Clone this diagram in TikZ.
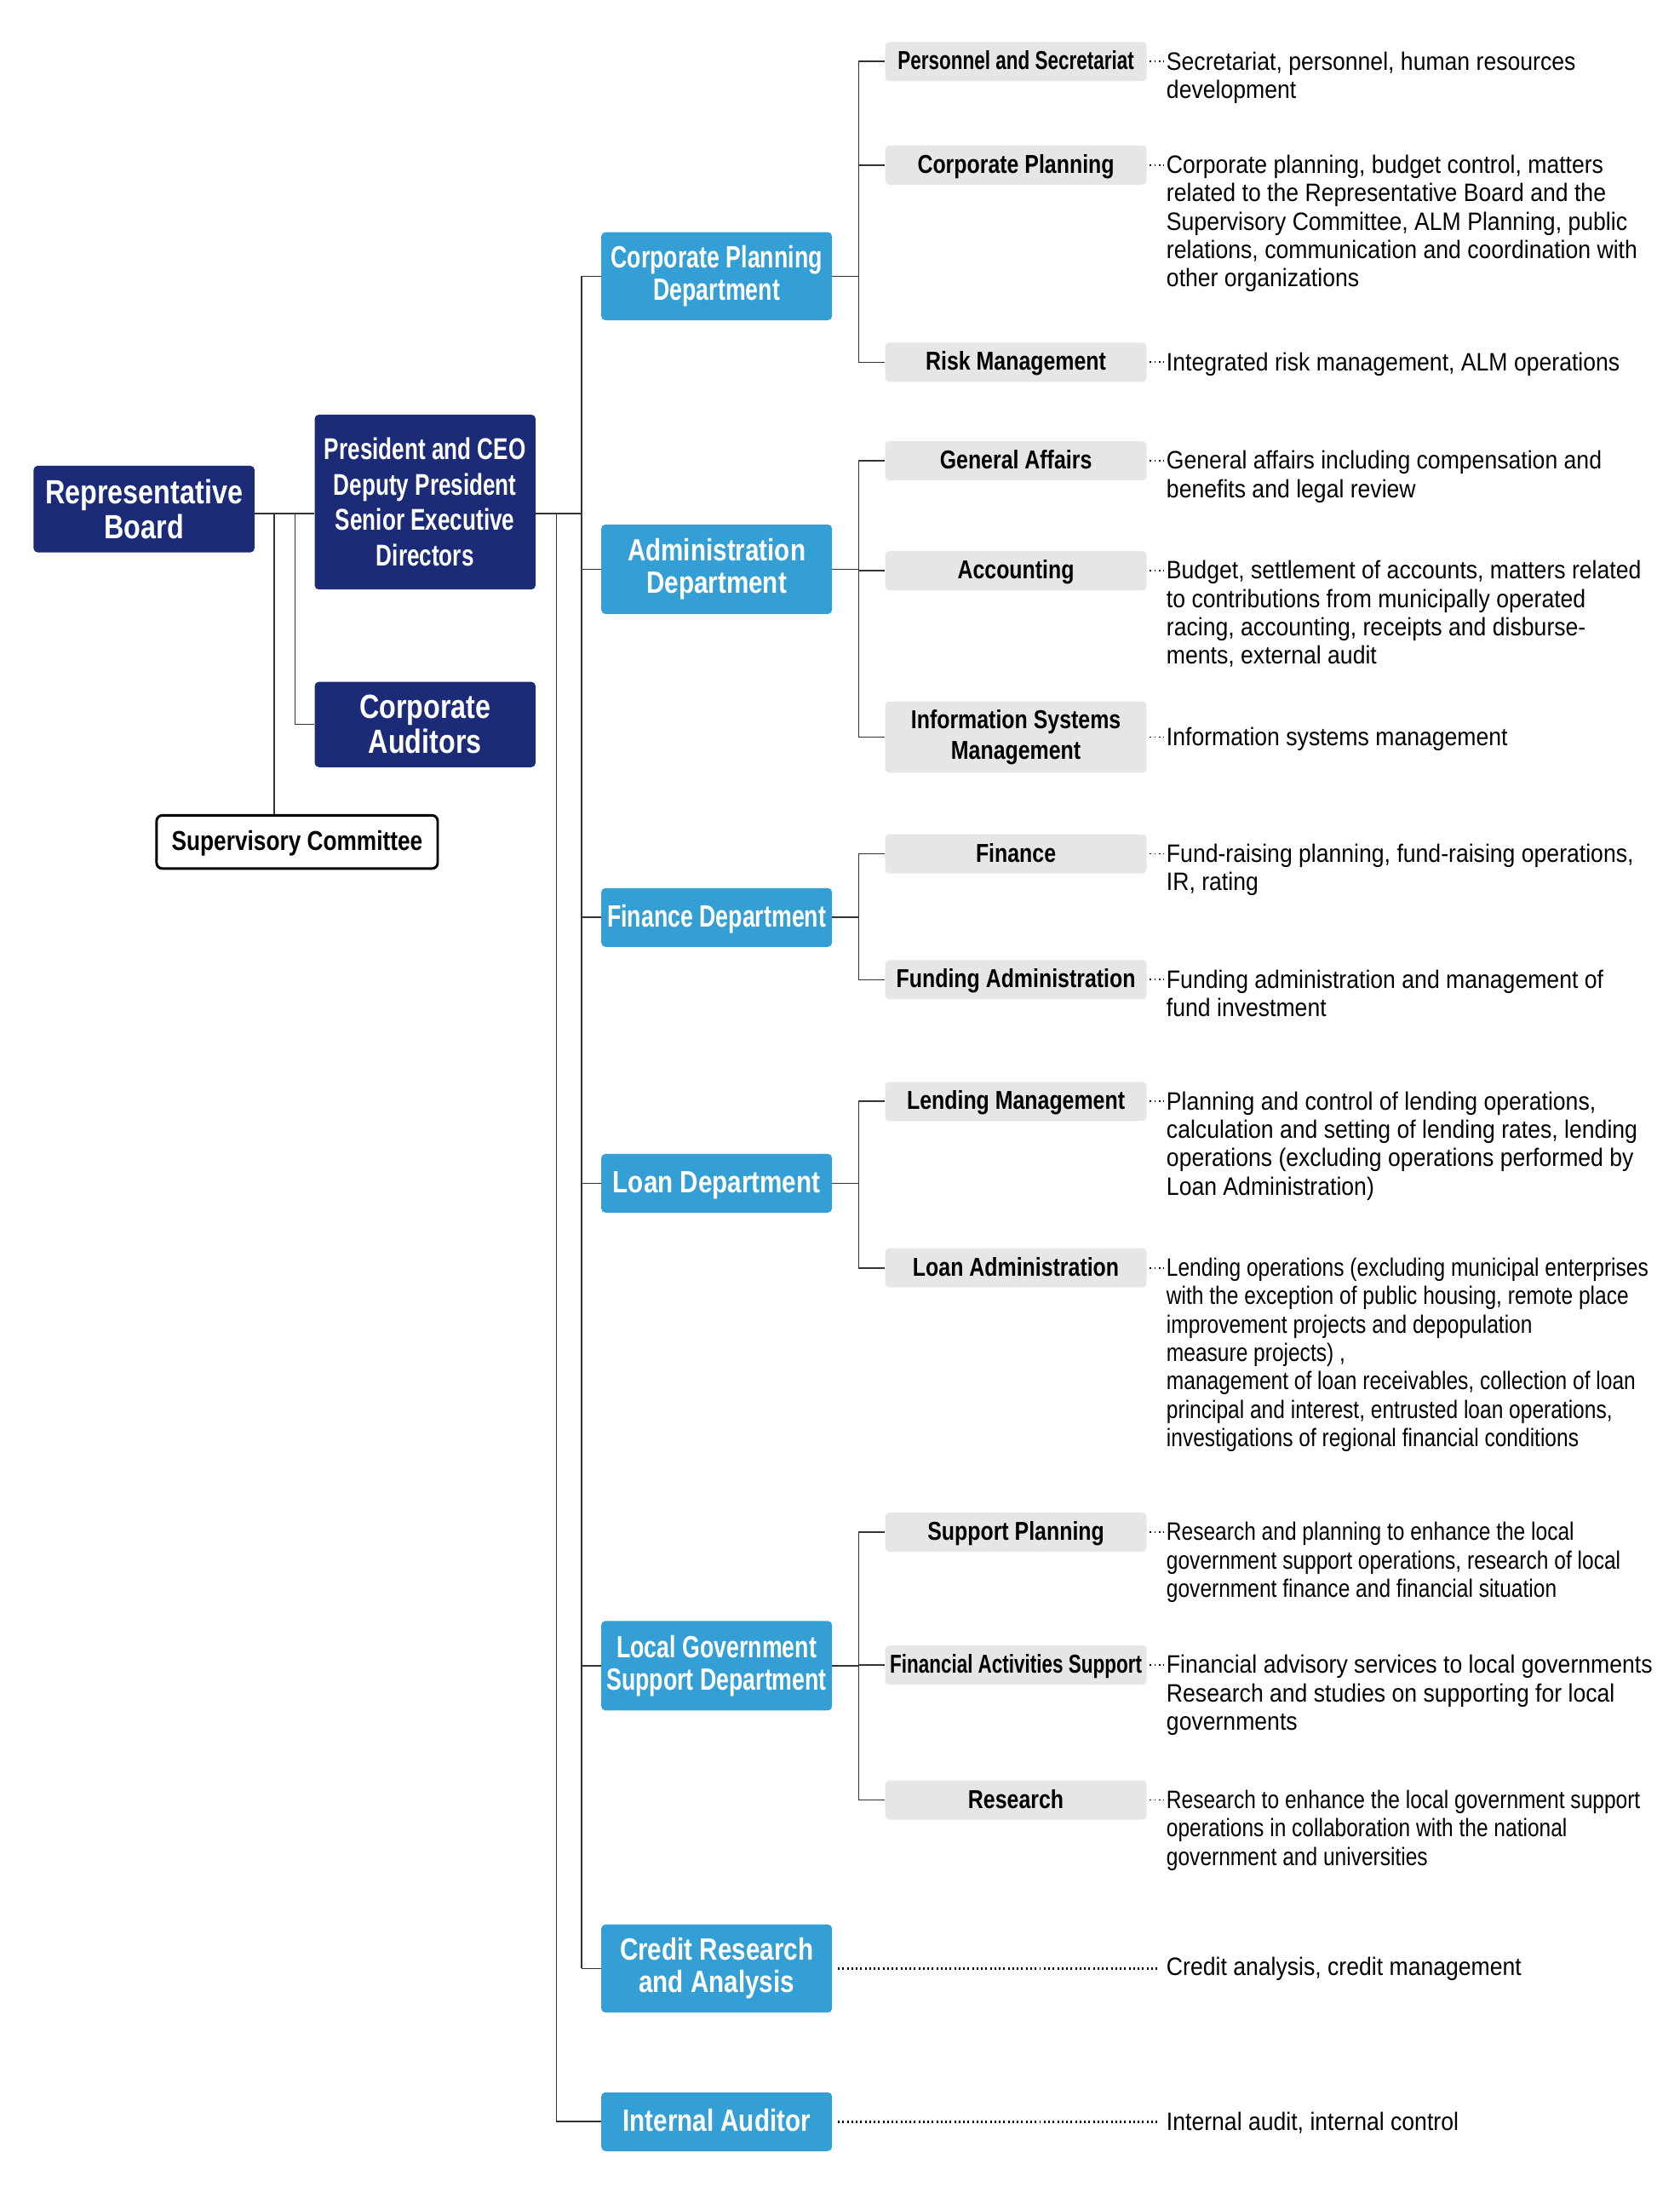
\documentclass[tikz,border=0pt]{standalone}
\usepackage{fontspec}
\setmainfont{Liberation Sans}[FakeStretch=0.9]
\newfontfamily\condfont{Liberation Sans}[FakeStretch=0.82]
\newfontfamily\tightfont{Liberation Sans}[FakeStretch=0.74]
\newfontfamily\loanfont{Liberation Sans}[FakeStretch=0.83]
\usepackage{xcolor}
\usepackage{tikz}
\definecolor{deepblue}{HTML}{1B2B78}
\definecolor{skyblue}{HTML}{349FD5}
\definecolor{boxgray}{HTML}{E6E6E7}
\definecolor{linegray}{HTML}{333333}

\begin{document}
\begin{tikzpicture}[x=1pt,y=-1pt,
  link/.style={draw=linegray, line width=1pt},
  leader/.style={draw=black, line width=1.1pt, dash pattern=on 1.1pt off 2.1pt},
  longleader/.style={draw=black, line width=1.6pt, dash pattern=on 1.2pt off 2pt},
  boardbox/.style={fill=deepblue, rounded corners=3pt, text=white, align=center, minimum width=158pt, inner sep=2pt, font=\condfont\bfseries\fontsize{24}{25}\selectfont},
  deptbox/.style={fill=skyblue, rounded corners=3pt, text=white, align=center, minimum width=165pt, inner sep=2pt, font=\condfont\bfseries\fontsize{22}{23}\selectfont},
  deptline/.style={deptbox, minimum height=42pt, text height=16pt, text depth=2.5pt},
  secbox/.style={fill=boxgray, rounded corners=3pt, align=center, minimum width=187pt, minimum height=28pt, inner sep=2pt, font=\condfont\bfseries\fontsize{18.5}{22}\selectfont},
  secline/.style={secbox, text height=13.5pt, text depth=2pt},
  desc/.style={anchor=base west, inner sep=0pt, font=\fontsize{18}{20.3}\selectfont}]
\useasboundingbox (0,0) rectangle (1201,1568);
\fill[white] (0,0) rectangle (1201,1568);

% board level
\node[boardbox, minimum height=62pt] (rep) at (103,364) {Representative\\Board};
\node[boardbox, minimum height=125pt, font=\tightfont\bfseries\fontsize{21.5}{25.3}\selectfont] (pres) at (304,359) {President and CEO\\Deputy President\\Senior Executive\\Directors};
\node[boardbox, minimum height=61pt] (aud) at (304,518) {Corporate\\Auditors};
\node[draw=black, line width=1.8pt, fill=white, rounded corners=4pt, minimum width=201pt, minimum height=38pt, text height=14pt, text depth=2pt, font=\condfont\bfseries\fontsize{19.5}{22}\selectfont] (sup) at (212.5,602) {Supervisory Committee};

% departments
\node[deptbox, minimum height=63pt, font=\tightfont\bfseries\fontsize{22}{23}\selectfont] (cpd) at (512.5,197.5) {Corporate Planning\\Department};
\node[deptbox, minimum height=64pt] (adm) at (512.5,407) {Administration\\Department};
\node[deptline, font=\tightfont\bfseries\fontsize{22}{23}\selectfont] (fin) at (512.5,656) {Finance Department};
\node[deptline] (loan) at (512.5,846) {Loan Department};
\node[deptbox, minimum height=64pt, font=\tightfont\bfseries\fontsize{22}{23}\selectfont] (lgs) at (512.5,1191) {Local Government\\Support Department};
\node[deptbox, minimum height=63pt] (cra) at (512.5,1407.5) {Credit Research\\and Analysis};
\node[deptline] (ia) at (512.5,1517) {Internal Auditor};

% sections
\node[secline, font=\tightfont\bfseries\fontsize{18.5}{22}\selectfont] (pers) at (726.5,44) {Personnel and Secretariat};
\node[secline] (cplan) at (726.5,118) {Corporate Planning};
\node[secline] (risk) at (726.5,259) {Risk Management};
\node[secline] (gen) at (726.5,329.5) {General Affairs};
\node[secline] (acc) at (726.5,408) {Accounting};
\node[secbox, minimum height=51pt] (info) at (726.5,527) {Information Systems\\Management};
\node[secline] (finc) at (726.5,610.5) {Finance};
\node[secline] (fund) at (726.5,700.5) {Funding Administration};
\node[secline] (lend) at (726.5,787.5) {Lending Management};
\node[secline] (ladm) at (726.5,906.5) {Loan Administration};
\node[secline] (supp) at (726.5,1095.5) {Support Planning};
\node[secline, font=\tightfont\bfseries\fontsize{18.5}{22}\selectfont] (fas) at (726.5,1190.5) {Financial Activities Support};
\node[secline] (res) at (726.5,1287) {Research};

% duties
\node[desc] (pers-d) at (834,50) {\begin{minipage}[t]{360pt}\raggedright\noindent
Secretariat, personnel, human resources\\development\end{minipage}};
\node[desc] (cplan-d) at (834,124) {\begin{minipage}[t]{360pt}\raggedright\noindent
Corporate planning, budget control, matters\\related to the Representative Board and the\\Supervisory Committee, ALM Planning, public\\relations, communication and coordination with\\other organizations\end{minipage}};
\node[desc] (risk-d) at (834,265) {\begin{minipage}[t]{360pt}\raggedright\noindent
Integrated risk management, ALM operations\end{minipage}};
\node[desc] (gen-d) at (834,335.5) {\begin{minipage}[t]{360pt}\raggedright\noindent
General affairs including compensation and\\benefits and legal review\end{minipage}};
\node[desc] (acc-d) at (834,414) {\begin{minipage}[t]{360pt}\raggedright\noindent
Budget, settlement of accounts, matters related\\to contributions from municipally operated\\racing, accounting, receipts and disburse-\\ments, external audit\end{minipage}};
\node[desc] (info-d) at (834,533) {\begin{minipage}[t]{360pt}\raggedright\noindent
Information systems management\end{minipage}};
\node[desc] (finc-d) at (834,616.5) {\begin{minipage}[t]{360pt}\raggedright\noindent
Fund-raising planning, fund-raising operations,\\IR, rating\end{minipage}};
\node[desc] (fund-d) at (834,706.5) {\begin{minipage}[t]{360pt}\raggedright\noindent
Funding administration and management of\\fund investment\end{minipage}};
\node[desc] (lend-d) at (834,793.5) {\begin{minipage}[t]{360pt}\raggedright\noindent
Planning and control of lending operations,\\calculation and setting of lending rates, lending\\operations (excluding operations performed by\\Loan Administration)\end{minipage}};
\node[desc, font=\loanfont\fontsize{18}{20.3}\selectfont] (ladm-d) at (834,912.5) {\begin{minipage}[t]{360pt}\raggedright\noindent
Lending operations (excluding municipal enterprises\\with the exception of public housing, remote place\\improvement projects and depopulation\\measure projects) ,\\management of loan receivables, collection of loan\\principal and interest, entrusted loan operations,\\investigations of regional financial conditions\end{minipage}};
\node[desc, font=\loanfont\fontsize{18}{20.3}\selectfont] (supp-d) at (834,1101.5) {\begin{minipage}[t]{360pt}\raggedright\noindent
Research and planning to enhance the local\\government support operations, research of local\\government finance and financial situation\end{minipage}};
\node[desc] (fas-d) at (834,1196.5) {\begin{minipage}[t]{360pt}\raggedright\noindent
Financial advisory services to local governments\\Research and studies on supporting for local\\governments\end{minipage}};
\node[desc, font=\loanfont\fontsize{18}{20.3}\selectfont] (res-d) at (834,1293) {\begin{minipage}[t]{360pt}\raggedright\noindent
Research to enhance the local government support\\operations in collaboration with the national\\government and universities\end{minipage}};
\node[desc] (cra-d) at (834,1412.5) {\begin{minipage}[t]{360pt}\raggedright\noindent
Credit analysis, credit management\end{minipage}};
\node[desc] (ia-d) at (834,1523) {\begin{minipage}[t]{360pt}\raggedright\noindent
Internal audit, internal control\end{minipage}};

% junctions
\coordinate (supj) at (196,367);
\coordinate (audj) at (211,367);
\coordinate (iaj) at (398,367);
\coordinate (trunk) at (416,367);
\coordinate (br) at (614,0);

% board lines
\draw[link] (rep.east |- supj) -- (pres.west |- supj);
\draw[link] (supj) -- (supj |- sup.north);
\draw[link] (audj) |- (aud.west);
\draw[link] (pres.east |- trunk) -- (trunk);
\draw[link] (trunk |- cpd.west) -- (trunk |- cra.west);
\draw[link] (iaj) |- (ia.west);
\foreach \d in {cpd,adm,fin,loan,lgs,cra}
  \draw[link] (trunk |- \d.west) -- (\d.west);

% section lines
\foreach \d/\a/\b in {cpd/pers/risk, adm/gen/info, fin/finc/fund, loan/lend/ladm, lgs/supp/res}{
  \draw[link] (\d.east) -- (br |- \d.east);
  \draw[link] (br |- \a.west) -- (br |- \b.west);
}
\foreach \s in {pers,cplan,risk,gen,acc,info,finc,fund,lend,ladm,supp,fas,res}{
  \draw[link] (br |- \s.west) -- (\s.west);
  \draw[leader, shorten <=2pt, shorten >=2pt] (\s.east) -- (\s-d.west |- \s.east);
}
\draw[longleader, shorten <=4pt, shorten >=5pt] (cra.east) -- (cra-d.west |- cra.east);
\draw[longleader, shorten <=4pt, shorten >=5pt] (ia.east) -- (ia-d.west |- ia.east);
\end{tikzpicture}
\end{document}
